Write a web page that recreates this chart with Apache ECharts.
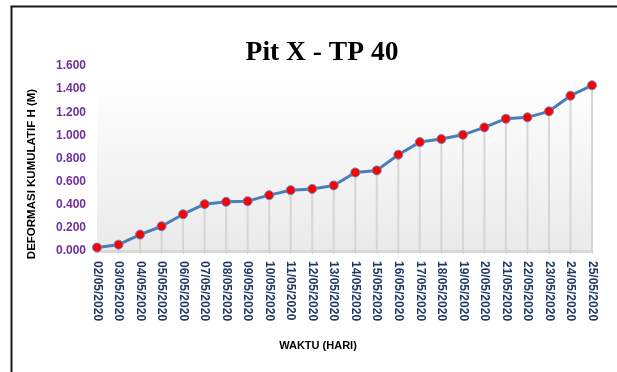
<!DOCTYPE html>
<html>
<head>
<meta charset="utf-8">
<script src="https://cdn.jsdelivr.net/npm/echarts@6/dist/echarts.min.js"></script>
<style>
html,body{margin:0;padding:0;background:#fff;}
#chart{width:617px;height:372px;}
</style>
</head>
<body>
<div id="chart"></div>
<script>
const titleText = 'Pit X - TP 40';
const xAxisName = 'WAKTU (HARI)';
const yAxisName = 'DEFORMASI KUMULATIF H (M)';
const categories = ['02/05/2020','03/05/2020','04/05/2020','05/05/2020','06/05/2020','07/05/2020','08/05/2020','09/05/2020','10/05/2020','11/05/2020','12/05/2020','13/05/2020','14/05/2020','15/05/2020','16/05/2020','17/05/2020','18/05/2020','19/05/2020','20/05/2020','21/05/2020','22/05/2020','23/05/2020','24/05/2020','25/05/2020'];
const deformasi = [0.030,0.055,0.142,0.214,0.318,0.405,0.425,0.431,0.483,0.526,0.537,0.567,0.679,0.697,0.833,0.942,0.968,1.005,1.069,1.144,1.156,1.208,1.343,1.433];
const yTicks = {min:0, max:1.6, interval:0.2};

const chart = echarts.init(document.getElementById('chart'), null, {renderer:'canvas'});
chart.setOption({
  animation:false,
  backgroundColor:'#ffffff',
  title:{
    text:titleText, left:317, top:34, textAlign:'center',
    textStyle:{fontFamily:'Liberation Serif', fontWeight:'bold', fontSize:27.5, color:'#000'}
  },
  graphic:[
    {type:'line', shape:{x1:11.5,y1:372,x2:11.5,y2:6.5}, style:{stroke:'#1a1a1a', lineWidth:2}},
    {type:'line', shape:{x1:10.5,y1:6.5,x2:617,y2:6.5}, style:{stroke:'#1a1a1a', lineWidth:2}},
    {type:'text', x:318, y:346, style:{text:xAxisName, fontFamily:'Liberation Sans', fontWeight:'bold', fontSize:11, fill:'#000', align:'center', verticalAlign:'middle'}},
    {type:'text', x:32, y:174, rotation:Math.PI/2, style:{text:yAxisName, fontFamily:'Liberation Sans', fontWeight:'bold', fontSize:11.5, fill:'#000', align:'center', verticalAlign:'middle'}}
  ],
  grid:{
    left:97, right:25, top:66, bottom:121, containLabel:false, show:true, borderWidth:0,
    backgroundColor:new echarts.graphic.LinearGradient(0,0,0,1,[
      {offset:0,color:'#ffffff'},{offset:0.15,color:'#fdfdfd'},{offset:1,color:'#eaeaea'}
    ])
  },
  xAxis:{
    type:'category', data:categories, boundaryGap:false,
    axisLine:{show:true, lineStyle:{color:'#d9d9d9', width:3}},
    axisTick:{show:true, length:3, lineStyle:{color:'#d0d0d0'}},
    axisLabel:{rotate:-90, margin:10, color:'#1F3864', fontFamily:'Liberation Sans', fontWeight:'bold', fontSize:12, interval:0},
    splitLine:{show:false}
  },
  yAxis:{
    type:'value', min:yTicks.min, max:yTicks.max, interval:yTicks.interval,
    axisLine:{show:false}, axisTick:{show:false}, splitLine:{show:false},
    axisLabel:{margin:11, color:'#7030A0', fontFamily:'Liberation Sans', fontWeight:'bold', fontSize:12,
      formatter:function(v){return v.toFixed(3);}}
  },
  series:[
    {
      type:'bar', data:deformasi, barWidth:2, silent:true, z:1,
      itemStyle:{color:'#d6d6d6'}
    },
    {
      type:'line', data:deformasi, z:3,
      lineStyle:{color:'#4A7EBB', width:3},
      symbol:'circle', symbolSize:9,
      itemStyle:{color:'#FF0000', borderColor:'#5B8BC9', borderWidth:1}
    }
  ]
});
</script>
</body>
</html>
